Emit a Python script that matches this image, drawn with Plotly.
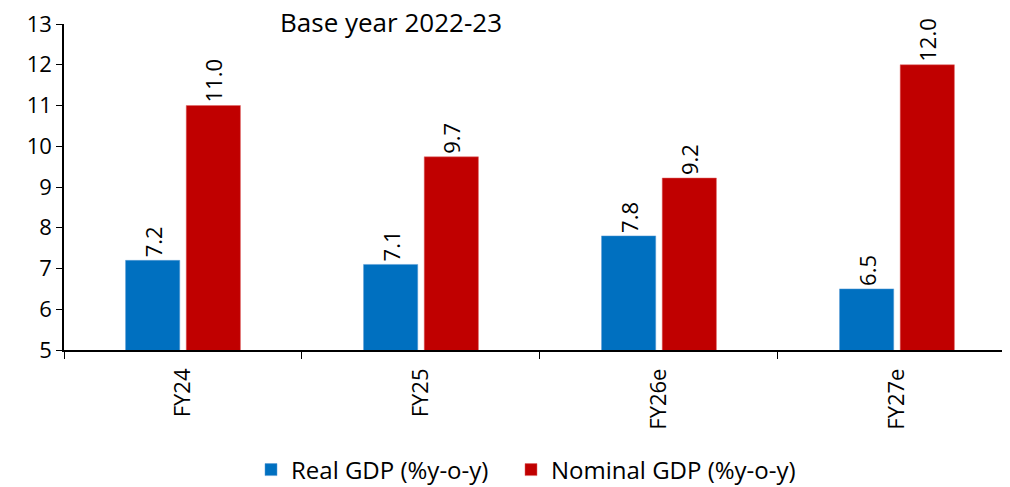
import plotly.graph_objects as go

categories = ["FY24", "FY25", "FY26e", "FY27e"]
real_gdp = [7.2, 7.1, 7.8, 6.5]
nominal_gdp = [11.0, 9.74, 9.22, 12.0]
y_ticks = [5, 6, 7, 8, 9, 10, 11, 12, 13]
FONT = "Open Sans"

# the page body has an 8px margin, so the figure is sized/placed to compensate
W, H = 1002, 479

fig = go.Figure()
fig.add_trace(go.Bar(
    x=categories, y=real_gdp, name="Real GDP (%y-o-y)", legend="legend",
    marker=dict(color="#0070C0", line=dict(color="#5B9BD5", width=0.5)),
    text=[f"{v:.1f}" for v in real_gdp], textposition="outside",
    textangle=-90, textfont=dict(size=22, color="black", family=FONT),
    cliponaxis=False,
))
fig.add_trace(go.Bar(
    x=categories, y=nominal_gdp, name="Nominal GDP (%y-o-y)", legend="legend2",
    marker=dict(color="#C00000", line=dict(color="#E06666", width=0.5)),
    text=[f"{v:.1f}" for v in nominal_gdp], textposition="outside",
    textangle=-90, textfont=dict(size=22, color="black", family=FONT),
    cliponaxis=False,
))

legend_common = dict(orientation="h", xref="container", xanchor="left",
                     yref="container", y=(H - 462) / H, yanchor="middle",
                     font=dict(size=24, family=FONT), bgcolor="rgba(0,0,0,0)")

fig.update_layout(
    width=W, height=H,
    margin=dict(l=56, r=0, t=16, b=137),
    plot_bgcolor="white", paper_bgcolor="white",
    barmode="group", bargap=0.49, bargroupgap=0.107,
    font=dict(family=FONT, size=22, color="black"),
    showlegend=True,
    legend=dict(x=243 / W, **legend_common),
    legend2=dict(x=503 / W, **legend_common),
    annotations=[dict(text="Base year 2022-23", x=(278 - 64) / 946, xref="paper",
                      y=1, yref="paper", yshift=2, xanchor="left", yanchor="middle",
                      showarrow=False,
                      font=dict(size=26, family=FONT, color="black"))],
)
fig.update_xaxes(
    type="category", range=[-0.5, 3.475], automargin=False,
    showline=True, linecolor="black", linewidth=1.5,
    ticks="outside", tickson="boundaries", ticklen=7, tickcolor="black",
    tickangle=-90, tickfont=dict(size=22, family=FONT), ticklabelstandoff=8,
    showgrid=False,
)
fig.update_yaxes(
    range=[5, 13], tickvals=y_ticks, automargin=False,
    showline=True, linecolor="black", linewidth=1.5,
    ticks="outside", ticklen=6, tickcolor="black",
    tickfont=dict(size=22, family=FONT), ticklabeloverflow="allow",
    showgrid=False, zeroline=False,
)

fig.write_html("out.html")
